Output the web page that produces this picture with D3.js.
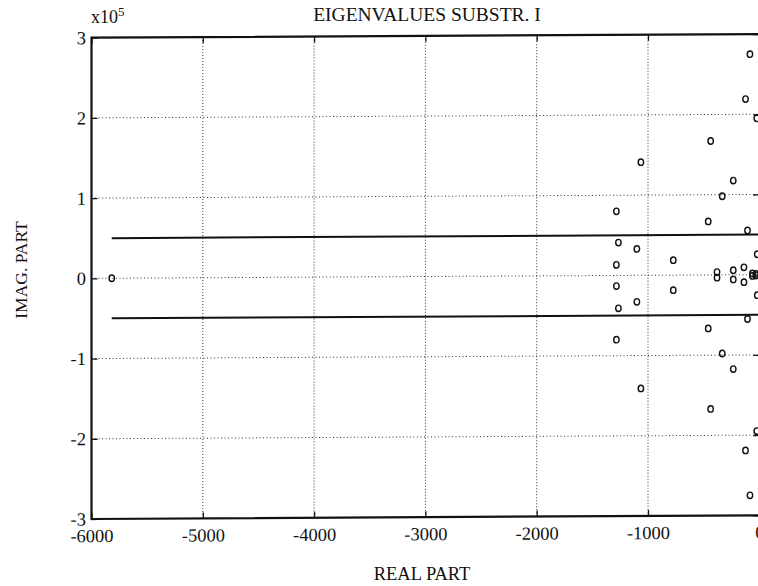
<!DOCTYPE html>
<html>
<head>
<meta charset="utf-8">
<script src="https://cdn.jsdelivr.net/npm/d3@7"></script>
<style>
  html, body { margin: 0; padding: 0; background: #fff; }
  svg { display: block; }
  text { font-family: "Liberation Serif", "Times New Roman", serif; fill: #111; }
</style>
</head>
<body>
<svg id="chart" width="758" height="586"></svg>
<script>
// Eigenvalues of substructure I: real and imaginary parts
const realPart = [
  -5818,
  -84, -84,
  -124, -124,
  -23, -23,
  -437, -437,
  -1064, -1064,
  -234, -234,
  -333, -333,
  -1284, -1284,
  -459, -459,
  -106, -106,
  -1266, -1266,
  -1100, -1100,
  -18, -18,
  -773, -773,
  -1284, -1284,
  -138, -138,
  -234, -234,
  -380, -380,
  -62, -62,
  -30, -30
];
const imagPart = [
  0,
  275000, -275000,
  219000, -219000,
  195000, -195000,
  167000, -167000,
  141000, -141000,
  117500, -117500,
  98000, -98000,
  80000, -80000,
  66700, -66700,
  55200, -55200,
  41000, -41000,
  33000, -33000,
  25500, -25500,
  18700, -18700,
  13200, -13200,
  9300, -9300,
  5800, -5800,
  3500, -3500,
  1500, -1500,
  1000, -1000
];

// Damping boundary lines (imaginary part) and where they begin on the real axis
const boundLevels = [50000, -50000];
const boundStart = -5818;

const xTicks = [-6000, -5000, -4000, -3000, -2000, -1000, 0];
const yTicks = [-300000, -200000, -100000, 0, 100000, 200000, 300000];
const xGrid = [-5000, -4000, -3000, -2000, -1000];
const yGrid = [-200000, -100000, 0, 100000, 200000];

(function draw() {
  const svg = d3.select("#chart");

  const pL = 91.5, pR = 759.3, pT = 37.7, pB = 519;
  const x = d3.scaleLinear().domain([-6000, 0]).range([pL, pR]);
  const y = d3.scaleLinear().domain([-300000, 300000]).range([pB, pT]);

  // the plotted frame leans slightly: right side sits a little higher
  const lean = -0.0055;
  const plot = svg.append("g")
    .attr("transform", `matrix(1,${lean},0,1,0,${-lean * pL})`);

  // dotted grid
  plot.append("g").selectAll("line").data(xGrid).join("line")
    .attr("x1", d => x(d)).attr("x2", d => x(d))
    .attr("y1", pT).attr("y2", pB)
    .attr("stroke", "#333").attr("stroke-width", 1)
    .attr("stroke-dasharray", "1,2");
  plot.append("g").selectAll("line").data(yGrid).join("line")
    .attr("x1", pL).attr("x2", pR)
    .attr("y1", d => y(d)).attr("y2", d => y(d))
    .attr("stroke", "#333").attr("stroke-width", 1)
    .attr("stroke-dasharray", "1,2.5");

  // boundary lines
  plot.append("g").selectAll("line").data(boundLevels).join("line")
    .attr("x1", x(boundStart)).attr("x2", pR)
    .attr("y1", d => y(d)).attr("y2", d => y(d))
    .attr("stroke", "#111").attr("stroke-width", 2);

  // axes
  const fmtY = d => String(d / 100000);
  const fmtX = d => String(d);

  const axL = plot.append("g").attr("transform", `translate(${pL},0)`)
    .call(d3.axisLeft(y).tickValues(yTicks).tickSize(-6).tickPadding(5.5).tickFormat(fmtY));
  const axR = plot.append("g").attr("transform", `translate(${pR},0)`)
    .call(d3.axisRight(y).tickValues(yTicks).tickSize(-6).tickFormat(""));
  const axB = plot.append("g").attr("transform", `translate(0,${pB})`)
    .call(d3.axisBottom(x).tickValues(xTicks).tickSize(-6).tickPadding(10).tickFormat(fmtX));
  const axT = plot.append("g").attr("transform", `translate(0,${pT})`)
    .call(d3.axisTop(x).tickValues(xTicks).tickSize(-6).tickFormat(""));

  [axL, axR, axB, axT].forEach(g => {
    g.select(".domain").remove();
    g.selectAll(".tick line").attr("stroke", "#111").attr("stroke-width", 1.3);
    g.selectAll(".tick text")
      .attr("fill", "#111")
      .style("font-family", "'Liberation Serif', serif")
      .style("font-size", "18.5px");
  });

  // frame
  plot.append("rect")
    .attr("x", pL).attr("y", pT)
    .attr("width", pR - pL).attr("height", pB - pT)
    .attr("fill", "none").attr("stroke", "#111").attr("stroke-width", 2.2);

  // eigenvalue markers
  plot.append("g").selectAll("ellipse")
    .data(realPart.map((r, i) => [r, imagPart[i]])).join("ellipse")
    .attr("cx", d => x(d[0])).attr("cy", d => y(d[1]))
    .attr("rx", 2.7).attr("ry", 3.2)
    .attr("fill", "none").attr("stroke", "#111").attr("stroke-width", 1.4);

  // texts
  svg.append("text")
    .attr("x", 427).attr("y", 21)
    .attr("text-anchor", "middle")
    .style("font-size", "19.5px")
    .text("EIGENVALUES SUBSTR. I");

  const mult = svg.append("text").attr("x", 91).attr("y", 23).style("font-size", "18px");
  mult.append("tspan").text("x10");
  mult.append("tspan").attr("dy", -7).style("font-size", "13px").text("5");

  svg.append("text")
    .attr("transform", "translate(27,270) rotate(-90)")
    .attr("text-anchor", "middle")
    .style("font-size", "17.5px")
    .text("IMAG. PART");

  svg.append("text")
    .attr("x", 422).attr("y", 580)
    .attr("text-anchor", "middle")
    .style("font-size", "18.5px")
    .text("REAL PART");
})();
</script>
</body>
</html>
